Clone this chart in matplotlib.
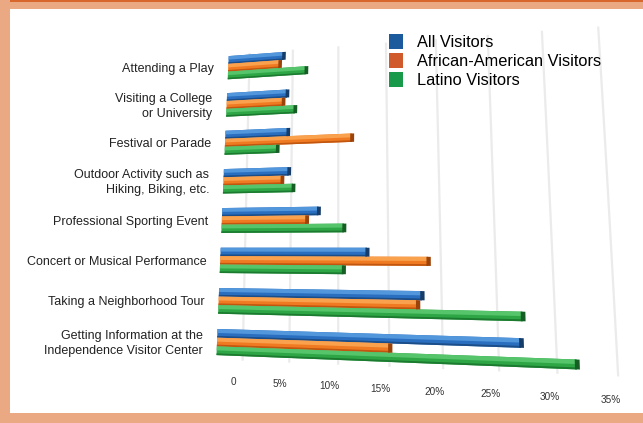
import numpy as np
import matplotlib
matplotlib.use("Agg")
import matplotlib.pyplot as plt
from matplotlib.transforms import Transform, offset_copy
from matplotlib.patches import Patch, Rectangle

plt.rcParams["font.family"] = ["Liberation Sans", "DejaVu Sans"]

# ---- data (listed top to bottom) ----
categories = [
    "Attending a Play",
    "Visiting a College\nor University",
    "Festival or Parade",
    "Outdoor Activity such as\nHiking, Biking, etc.",
    "Professional Sporting Event",
    "Concert or Musical Performance",
    "Taking a Neighborhood Tour",
    "Getting Information at the\nIndependence Visitor Center",
]
all_visitors = [6.3, 6.8, 7.0, 7.2, 10.4, 15.3, 20.5, 29.2]
african_american = [5.9, 6.4, 13.7, 6.5, 9.2, 21.1, 20.1, 17.5]
latino = [8.8, 7.7, 5.9, 7.7, 13.0, 13.0, 29.4, 33.8]
series_names = ["All Visitors", "African-American Visitors", "Latino Visitors"]
tick_values = [0, 5, 10, 15, 20, 25, 30, 35]
tick_labels = ["0", "5%", "10%", "15%", "20%", "25%", "30%", "35%"]

W, H = 643, 423
fig = plt.figure(figsize=(W / 100, H / 100), dpi=100)
ax = fig.add_axes([0, 0, 1, 1])
ax.set_xlim(0, W)
ax.set_ylim(H, 0)
ax.set_autoscale_on(False)
ax.axis("off")


class FloorPerspective(Transform):
    """Maps (percent, row) onto a receding floor drawn in pixel space."""
    input_dims = 2
    output_dims = 2
    is_separable = False

    def __init__(self, left, left_step):
        super().__init__()
        self.left = left
        self.left_step = left_step

    def transform_non_affine(self, values):
        values = np.asarray(values, dtype=float).reshape(-1, 2)
        v, r = values[:, 0], values[:, 1]
        depth = 1.03 - 0.0095 * r
        run = depth * (8.79 * v + 0.0453 * v * np.abs(v))
        x = self.left + self.left_step * r + run
        y = 342.0 - 41.5 * r + 0.33 * r ** 2 + (0.035 - 0.015 * r) * run
        return np.column_stack([x, y])


bar_plane = FloorPerspective(217.0, 1.6) + ax.transData
wall_plane = FloorPerspective(243.0, 0.9) + ax.transData

# frame around the panel
ax.add_patch(Rectangle((0, 0), W, 9, color="#eaa983", lw=0, zorder=0))
ax.add_patch(Rectangle((0, 0), W, 2, color="#d8672e", lw=0, zorder=0))
ax.add_patch(Rectangle((0, 0), 10, H, color="#eaa983", lw=0, zorder=0))
ax.add_patch(Rectangle((0, 413), W, 10, color="#eaa983", lw=0, zorder=0))

# value gridlines on the back wall
span = np.linspace(-0.45, 7.4, 60)
for v in tick_values:
    ax.plot(np.full_like(span, v), span, transform=wall_plane,
            color="#ebebeb", lw=1.6, solid_capstyle="butt", zorder=1)

tick_trans = offset_copy(wall_plane, fig=fig, x=-9, y=0, units="dots")
for v, lab in zip(tick_values, tick_labels):
    ax.text(v, -0.95, lab, transform=tick_trans, ha="center", va="center",
            fontsize=7.2, color="#333333", zorder=3)

# grouped bars with a shaded top and dark end cap
n = len(categories)
rows = np.arange(n)[::-1].astype(float)
series = [all_visitors, african_american, latino]
offsets = [0.21, 0.0, -0.21]
palette = [
    dict(face="#2a6fbf", top="#5296dc", low="#1b4d88", cap="#163d69"),
    dict(face="#f07a22", top="#f9a14c", low="#c0560f", cap="#9c430a"),
    dict(face="#2ea646", top="#55c46a", low="#1b7a2f", cap="#155f25"),
]
h = 0.21
for vals, off, pal in zip(series, offsets, palette):
    vals = np.asarray(vals, dtype=float)
    c = rows + off
    ax.barh(c, vals, height=h, color=pal["face"], lw=0,
            transform=bar_plane, zorder=2)
    ax.barh(c + h * 0.27, vals, height=h * 0.46, color=pal["top"], lw=0,
            transform=bar_plane, zorder=2.1)
    ax.barh(c - h * 0.4, vals, height=h * 0.2, color=pal["low"], lw=0,
            transform=bar_plane, zorder=2.1)
    ax.barh(c, np.full(n, 0.4), left=vals - 0.15, height=h, color=pal["cap"],
            lw=0, transform=bar_plane, zorder=2.2)

label_trans = offset_copy(bar_plane, fig=fig, x=-14, y=-1.5, units="dots")
for r, cat in zip(rows, categories):
    ax.text(0, r, cat, transform=label_trans, ha="right", va="center",
            multialignment="right", fontsize=9.0, color="#222222",
            linespacing=1.3, zorder=3)

legend_colors = ["#1b5a9d", "#d05a2b", "#189a4a"]
handles = [Patch(facecolor=c, edgecolor="none") for c in legend_colors]
fig.legend(handles, series_names, loc="upper left",
           bbox_to_anchor=(389 / W, 1 - 34 / H), frameon=False,
           fontsize=11.8, handlelength=0.85, handleheight=1.05,
           handletextpad=0.85, labelspacing=0.18, borderpad=0,
           borderaxespad=0)

fig.savefig("out.png", dpi=100, facecolor="white")
